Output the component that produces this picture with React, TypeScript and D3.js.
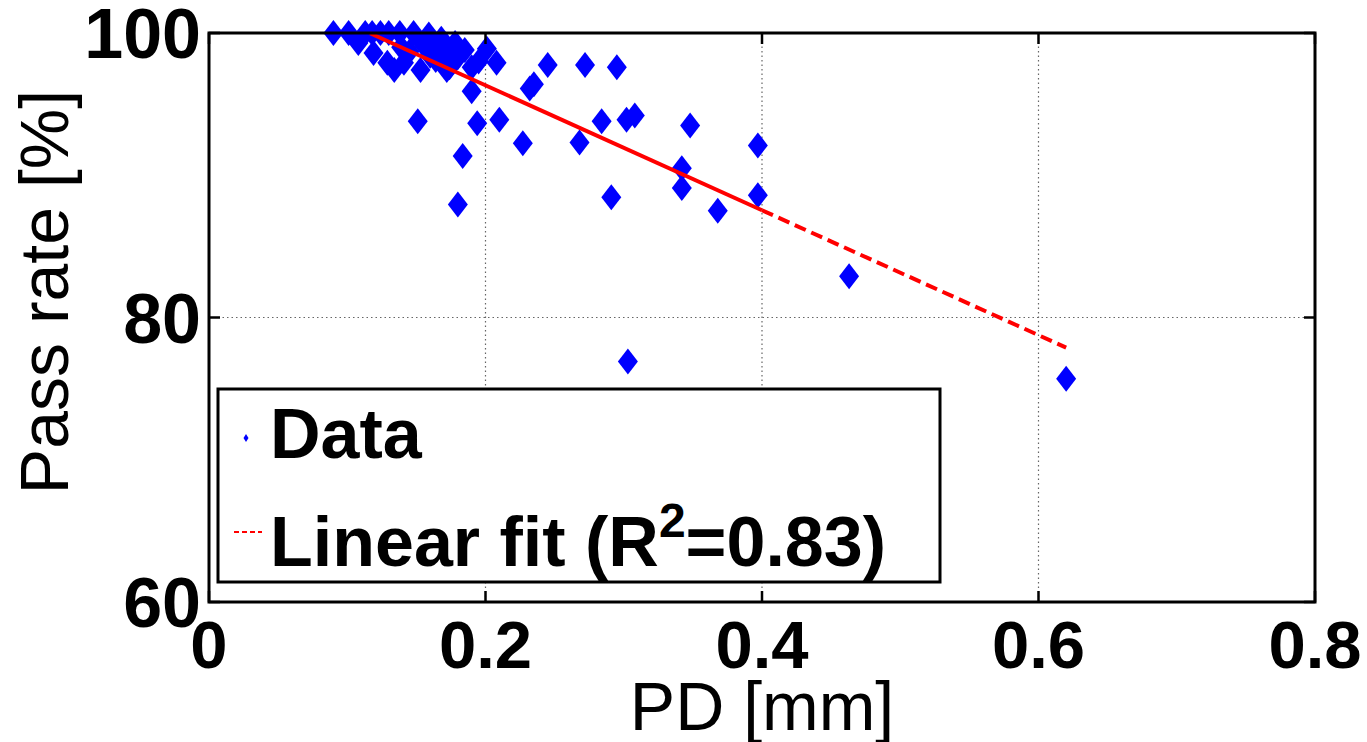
import React from "react";
import * as d3 from "d3";

// scatter data: PD [mm] vs pass rate [%]
const pdValues = [
  0.09, 0.101, 0.113, 0.118, 0.124, 0.13, 0.138, 0.148, 0.159,
  0.108, 0.119, 0.129, 0.134, 0.139, 0.141, 0.153, 0.164, 0.172,
  0.172, 0.174, 0.18, 0.19, 0.201, 0.208, 0.19, 0.232, 0.235,
  0.245, 0.272, 0.295, 0.21, 0.194, 0.151, 0.227, 0.1835, 0.18,
  0.284, 0.268, 0.302, 0.308, 0.348, 0.397, 0.342, 0.342, 0.291,
  0.397, 0.368, 0.463, 0.62, 0.303, 0.155, 0.165, 0.178, 0.185,
  0.195, 0.145, 0.16, 0.168,
];
const passRates = [
  100, 100, 100, 100, 100, 100, 100, 100, 99.9,
  99.3, 98.6, 97.9, 97.4, 99.0, 97.9, 97.4, 98.1, 98.7,
  97.4, 97.6, 98.3, 97.6, 98.9, 97.9, 95.9, 96.1, 96.4,
  97.75, 97.75, 97.6, 93.9, 93.65, 93.8, 92.25, 91.35, 87.95,
  93.8, 92.3, 93.9, 94.2, 93.5, 92.1, 90.5, 89.1, 88.45,
  88.6, 87.5, 82.9, 75.7, 76.9, 99.2, 99.0, 99.3, 98.8,
  98.0, 98.7, 98.4, 99.6,
];

// linear fit y = intercept + slope * x
const fitSlope = -43.9;
const fitIntercept = 105.1;
const fitSolidRange = [0.1165, 0.4];
const fitDashedRange = [0.4, 0.62];

const xTicks = [0, 0.2, 0.4, 0.6, 0.8];
const yTicks = [60, 80, 100];
const xGrid = [0.2, 0.4, 0.6];
const yGrid = [80];

const W = 1367;
const H = 742;
const margin = { left: 209, right: 52, top: 33, bottom: 140 };
const FONT = "'Liberation Sans', Arial, Helvetica, sans-serif";

export default function App() {
  const x = d3.scaleLinear().domain([0, 0.8]).range([margin.left, W - margin.right]);
  const y = d3.scaleLinear().domain([60, 100]).range([H - margin.bottom, margin.top]);
  const [x0, x1] = x.range();
  const [yb, yt] = y.range();

  const fit = (v: number) => fitIntercept + fitSlope * v;
  const line = d3
    .line<number>()
    .x((d) => x(d))
    .y((d) => y(fit(d)));

  const diamond = "M0,-13L10,0L0,13L-10,0Z";
  const tickLen = 11;

  return (
    <svg width={W} height={H} style={{ position: "absolute", left: 0, top: 0, background: "#fff" }}>
      <rect x={0} y={0} width={W} height={H} fill="#fff" />

      {/* grid */}
      {xGrid.map((t) => (
        <line key={"gx" + t} x1={x(t)} x2={x(t)} y1={yt} y2={yb} stroke="#666" strokeWidth={1.2} strokeDasharray="1.5,3" />
      ))}
      {yGrid.map((t) => (
        <line key={"gy" + t} x1={x0} x2={x1} y1={y(t)} y2={y(t)} stroke="#666" strokeWidth={1.2} strokeDasharray="1.5,3" />
      ))}

      {/* data points */}
      {pdValues.map((d, i) => (
        <path key={"p" + i} d={diamond} transform={`translate(${x(d)},${y(passRates[i])})`} fill="#0000ff" />
      ))}

      {/* fit line */}
      <path d={line(fitSolidRange) || ""} fill="none" stroke="#ff0000" strokeWidth={4} />
      <path d={line(fitDashedRange) || ""} fill="none" stroke="#ff0000" strokeWidth={4} strokeDasharray="12,6" />

      {/* ticks, inward on all four sides */}
      {xTicks.map((t) => (
        <g key={"tx" + t}>
          <line x1={x(t)} x2={x(t)} y1={yb} y2={yb - tickLen} stroke="#000" strokeWidth={2.5} />
          <line x1={x(t)} x2={x(t)} y1={yt} y2={yt + tickLen} stroke="#000" strokeWidth={2.5} />
          <text x={x(t)} y={668} textAnchor="middle" fontFamily={FONT} fontWeight="bold" fontSize={67}>
            {t === 0 ? "0" : t.toFixed(1)}
          </text>
        </g>
      ))}
      {yTicks.map((t) => (
        <g key={"ty" + t}>
          <line x1={x0} x2={x0 + tickLen} y1={y(t)} y2={y(t)} stroke="#000" strokeWidth={2.5} />
          <line x1={x1} x2={x1 - tickLen} y1={y(t)} y2={y(t)} stroke="#000" strokeWidth={2.5} />
          <text x={201} y={y(t)} dy="0.36em" textAnchor="end" fontFamily={FONT} fontWeight="bold" fontSize={70}>
            {t}
          </text>
        </g>
      ))}

      {/* axes box */}
      <rect x={x0} y={yt} width={x1 - x0} height={yb - yt} fill="none" stroke="#000" strokeWidth={3} />

      {/* axis labels */}
      <text x={(x0 + x1) / 2} y={730} textAnchor="middle" fontFamily={FONT} fontSize={68}>
        PD [mm]
      </text>
      <text
        transform={`translate(68,292) rotate(-90)`}
        textAnchor="middle"
        fontFamily={FONT}
        fontSize={68}
      >
        Pass rate [%]
      </text>

      {/* legend */}
      <rect x={218} y={389} width={722} height={193} fill="#fff" stroke="#000" strokeWidth={3} />
      <path d="M0,-4L2.5,0L0,4L-2.5,0Z" transform="translate(246,438)" fill="#0000ff" />
      <text x={270} y={458} fontFamily={FONT} fontWeight="bold" fontSize={70}>
        Data
      </text>
      <line x1={234} x2={262} y1={532} y2={532} stroke="#ff0000" strokeWidth={2} strokeDasharray="5,3" />
      <text x={270} y={566} fontFamily={FONT} fontWeight="bold" fontSize={70}>
        Linear fit (R
        <tspan fontSize={48} dy={-29}>2</tspan>
        <tspan dy={29}>=0.83)</tspan>
      </text>
    </svg>
  );
}
